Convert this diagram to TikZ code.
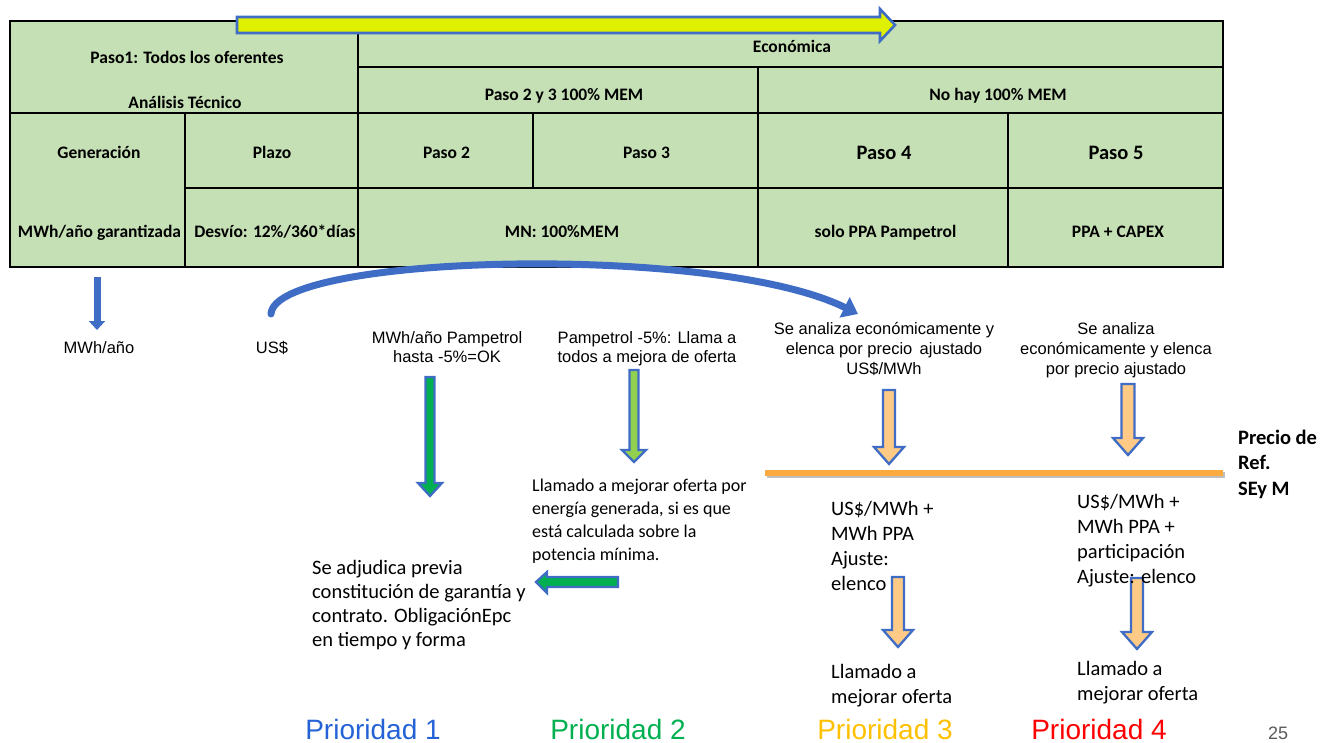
\documentclass[tikz,border=0pt]{standalone}
\usepackage{fontspec}
\setmainfont{Carlito}
\newfontfamily\arialf{Liberation Sans}
\usetikzlibrary{arrows.meta}
\definecolor{tablegreen}{HTML}{C5E0B4}
\definecolor{arrowblue}{HTML}{3F6CC4}
\definecolor{lime}{HTML}{DFF000}
\definecolor{greenfill}{HTML}{00B050}
\definecolor{lightgreenfill}{HTML}{92D050}
\definecolor{orangefill}{HTML}{FFCA85}
\definecolor{orangeline}{HTML}{FBAA40}
\definecolor{prioblue}{HTML}{2462D6}
\definecolor{priogreen}{HTML}{00B050}
\definecolor{prioyellow}{HTML}{FFC000}
\definecolor{priored}{HTML}{FF0000}
\definecolor{pagegray}{HTML}{595959}
\newcommand{\cellbox}[5]{\node[cell, minimum width={(#4-#2)*1pt}, minimum height={(#5-#3)*1pt}, anchor=north west] (#1) at (#2,#3) {};}
% down block arrow: x, ytop, ybot, halfshaft, halfhead, headlen, fill
\newcommand{\downblock}[7]{\filldraw[blockedge, fill=#7] (#1-#4,#2) -- (#1+#4,#2) -- (#1+#4,#3-#6) -- (#1+#5,#3-#6) -- (#1,#3) -- (#1-#5,#3-#6) -- (#1-#4,#3-#6) -- cycle;}
\tikzset{
  cell/.style={draw=black, line width=2.5pt, fill=tablegreen, inner sep=0pt, outer sep=0pt},
  tbl/.style={font=\bfseries\fontsize{17.5}{20}\selectfont, inner sep=0pt, anchor=base},
  tblbig/.style={font=\bfseries\fontsize{20.5}{24}\selectfont, inner sep=0pt, anchor=base},
  ar/.style={font=\arialf\fontsize{16.5}{19}\selectfont, align=center, inner sep=0pt, anchor=base},
  arw/.style={font=\arialf\fontsize{16.5}{20}\selectfont, align=center, inner sep=0pt, anchor=base},
  calsm/.style={font=\fontsize{18}{23}\selectfont, align=left, inner sep=0pt, anchor=base west},
  calbig/.style={font=\fontsize{20.5}{24}\selectfont, align=left, inner sep=0pt, anchor=base west},
  calbox/.style={font=\fontsize{20.5}{25}\selectfont, align=left, inner sep=0pt, anchor=base west},
  refl/.style={font=\bfseries\fontsize{20.5}{25.5}\selectfont, align=left, inner sep=0pt, anchor=base west},
  prio/.style={font=\arialf\fontsize{28}{30}\selectfont, inner sep=0pt, anchor=base},
  blockedge/.style={draw=arrowblue, line width=2.3pt, line join=miter},
}
\begin{document}
\begin{tikzpicture}[x=1pt,y=-1pt]
\useasboundingbox (0,0) rectangle (1330,743);
% table cells
\cellbox{cA}{10}{21}{358}{113}
\cellbox{cB}{358}{21}{1223}{67}
\cellbox{cC}{358}{67}{758}{113}
\cellbox{cD}{758}{67}{1223}{113}
\cellbox{cE}{10}{113}{185}{267}
\cellbox{cF}{185}{113}{358}{188}
\cellbox{cG}{358}{113}{533}{188}
\cellbox{cH}{533}{113}{758}{188}
\cellbox{cI}{758}{113}{1008}{188}
\cellbox{cJ}{1008}{113}{1223}{188}
\cellbox{cK}{185}{188}{358}{267}
\cellbox{cL}{358}{188}{758}{267}
\cellbox{cM}{758}{188}{1008}{267}
\cellbox{cN}{1008}{188}{1223}{267}
% table texts
\node[tbl] (tA1) at (187,63.6) {Paso1: Todos los oferentes};
\node[tbl] (tA2) at (185,108.6) {Análisis Técnico};
\node[tbl] (tB) at (792,52.6) {Económica};
\node[tbl] (tC) at (564,100.6) {Paso 2 y 3 100\% MEM};
\node[tbl] (tD) at (998,100.6) {No hay 100\% MEM};
\node[tbl] (tE1) at (99,158.6) {Generación};
\node[tbl] (tF) at (272,158.6) {Plazo};
\node[tbl] (tG) at (446.5,158.6) {Paso 2};
\node[tbl] (tH) at (646.5,158.6) {Paso 3};
\node[tblbig] (tI) at (884,159.6) {Paso 4};
\node[tblbig] (tJ) at (1116,159.6) {Paso 5};
\node[tbl] (tE2) at (99.5,237.6) {MWh/año garantizada};
\node[tbl] (tK) at (275,237.6) {Desvío: 12\%/360*días};
\node[tbl] (tL) at (562,237.6) {MN: 100\%MEM};
\node[tbl] (tM) at (885.5,237.6) {solo PPA Pampetrol};
\node[tbl] (tN) at (1118,237.6) {PPA + CAPEX};
% yellow top arrow
\filldraw[blockedge, line width=2.6pt, fill=lime] (237,17) -- (880,17) -- (880,9) -- (895,25) -- (880,41) -- (880,33) -- (237,33) -- cycle;
% texts below table
\node[ar] (mwh) at (99,353) {MWh/año};
\node[ar] (usd) at (272,353) {US\$};
\node[ar] (p1) at (447,362) {MWh/año Pampetrol\\hasta -5\%=OK};
\node[ar] (p2) at (647,362) {Pampetrol -5\%: Llama a\\todos a mejora de oferta};
\node[arw] (p3) at (884,374) {Se analiza económicamente y\\elenca por precio\, ajustado\\US\$/MWh};
\node[arw] (p4) at (1116,374) {Se analiza\\económicamente y elenca\\por precio ajustado};
% blue arrows
\coordinate (mwhTop) at (97,277);
\coordinate (mwhBot) at (97,330);
\draw[arrowblue, line width=7pt, -{Triangle[length=9pt,width=16pt]}] (mwhTop) -- (mwhBot);
\coordinate (curveS) at (271,314);
\coordinate (curveE) at (858,314);
\draw[arrowblue, line width=7pt, line cap=round, -{Triangle[length=15pt,width=22pt]}] (curveS) .. controls (274,254) and (715,243) .. (curveE);
% green arrows
\downblock{430}{377}{496}{4.5}{12}{13}{greenfill}
\downblock{634}{370}{462}{4.5}{12}{12}{lightgreenfill}
\filldraw[blockedge, fill=greenfill] (618,577) -- (547,577) -- (547,572) -- (536,582) -- (547,593) -- (547,587) -- (618,587) -- cycle;
% orange arrows
\downblock{889}{390}{464}{6}{15}{17}{orangefill}
\downblock{1128}{384}{455}{6.5}{15}{17}{orangefill}
\downblock{898}{577}{647}{6}{15}{17}{orangefill}
\downblock{1137}{578}{649}{6}{15}{17}{orangefill}
% reference price line
\coordinate (refL) at (765,473);
\coordinate (refR) at (1223,473);
\coordinate (refLs) at (767,475);
\coordinate (refRs) at (1225,475);
\draw[black!25, line width=6pt] (refLs) -- (refRs);
\draw[orangeline, line width=6pt] (refL) -- (refR);
\node[refl] (ref) at (1238,495) {Precio de\\Ref.\\SEy M};
% lower texts
\node[calsm] (llam) at (532,560) {Llamado a mejorar oferta por\\energía generada, si es que\\está calculada sobre la\\potencia mínima.};
\node[calbig] (adj) at (312,646) {Se adjudica previa\\constitución de garantía y\\contrato. ObligaciónEpc\\en tiempo y forma};
\node[calbox] (r3) at (831,590) {US\$/MWh +\\MWh PPA\\Ajuste:\\elenco};
\node[calbox] (r4) at (1077,583) {US\$/MWh +\\MWh PPA +\\participación\\Ajuste: elenco};
\node[calbox] (m3) at (831,703) {Llamado a\\mejorar oferta};
\node[calbox] (m4) at (1077,700) {Llamado a\\mejorar oferta};
% priorities
\node[prio, text=prioblue] (pr1) at (373,739) {Prioridad 1};
\node[prio, text=priogreen] (pr2) at (618,739) {Prioridad 2};
\node[prio, text=prioyellow] (pr3) at (885,739) {Prioridad 3};
\node[prio, text=priored] (pr4) at (1099,739) {Prioridad 4};
\node[font=\arialf\fontsize{18}{20}\selectfont, text=pagegray, inner sep=0pt, anchor=base] (pg) at (1278,739) {25};
\end{tikzpicture}
\end{document}
